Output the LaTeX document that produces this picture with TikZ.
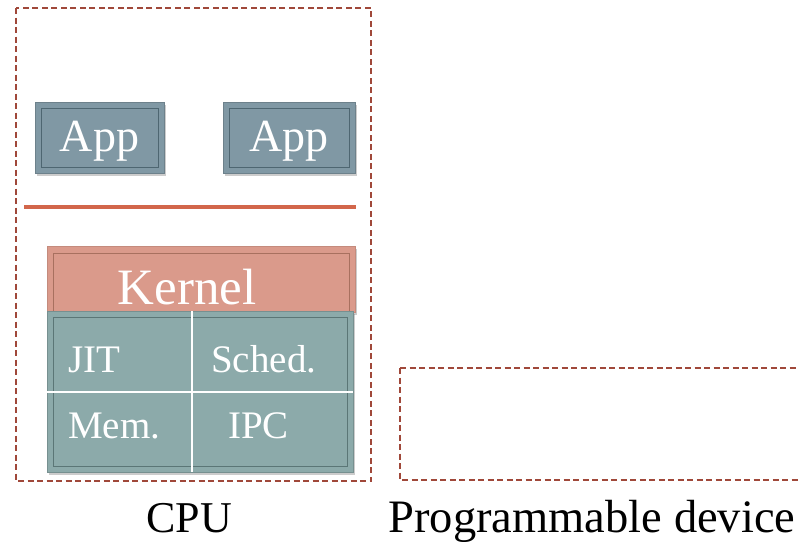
\documentclass[tikz,border=0pt]{standalone}
\usepackage{fontspec}
\setmainfont{Liberation Serif}
\usetikzlibrary{shadows}
\definecolor{dashc}{HTML}{A0483A}
\definecolor{appfill}{HTML}{8098A4}
\definecolor{appline}{HTML}{4E6671}
\definecolor{kfill}{HTML}{DA9A8B}
\definecolor{kline}{HTML}{A8705F}
\definecolor{tfill}{HTML}{8CAAAA}
\definecolor{tline}{HTML}{5B7676}
\definecolor{barc}{HTML}{D2664B}
\tikzset{
  region/.style={draw=dashc, line width=2pt, dash pattern=on 6pt off 3.5pt},
  shadowed/.style={drop shadow={opacity=0.4, shadow xshift=1.5pt, shadow yshift=-3pt}},
  appbox/.style={fill=appfill, draw=appfill!85!black, line width=0.6pt, shadowed},
  appinner/.style={draw=appline, line width=1pt},
  kbox/.style={fill=kfill, draw=kfill!90!black, line width=0.6pt, shadowed},
  kinner/.style={draw=kline, line width=1pt},
  tbox/.style={fill=tfill, draw=tfill!85!black, line width=0.6pt, shadowed},
  tinner/.style={draw=tline, line width=1pt},
  celltext/.style={text=white, font=\fontsize{39}{44}\selectfont, inner sep=0pt},
  bigtext/.style={text=white, inner sep=0pt},
  caption/.style={text=black, inner sep=0pt},
}
\begin{document}
\begin{tikzpicture}[x=1pt, y=-1pt]
\useasboundingbox (0,0) rectangle (798,541);
% regions
\draw[region] (16,8) rectangle (371,481);
\draw[region] (400,368) -- (802,368) (400,368) -- (400,480) -- (802,480);
% apps
\path[appbox] (35,102) rectangle (164,173);
\draw[appinner] (41,108) rectangle (158,167);
\node[bigtext, font=\fontsize{46}{50}\selectfont] (app1) at (99.5,141) {App};
\path[appbox] (223,102) rectangle (355,173);
\draw[appinner] (229,108) rectangle (349,167);
\node[bigtext, font=\fontsize{46}{50}\selectfont] (app2) at (289,141) {App};
% separator bar
\draw[barc, line width=4pt] (24,207) -- (356,207);
% kernel
\path[kbox] (47,246) rectangle (355,312);
\draw[kinner] (53,253) rectangle (349,312);
\node[bigtext, font=\fontsize{51}{56}\selectfont] (kernel) at (187,287) {Kernel};
% teal grid
\path[tbox] (47,311) rectangle (353,472);
\draw[tinner] (53,317) rectangle (347,466);
\draw[white, line width=1.5pt] (192,311) -- (192,472);
\draw[white, line width=1.5pt] (47,392) -- (353,392);
\node[celltext, anchor=base west] (jit) at (68,372) {JIT};
\node[celltext, anchor=base west] (sched) at (211,372) {Sched.};
\node[celltext, anchor=base west] (mem) at (68,438) {Mem.};
\node[celltext, anchor=base west] (ipc) at (228,438) {IPC};
% captions
\node[caption, font=\fontsize{44}{50}\selectfont, anchor=base] (cpu) at (189,532) {CPU};
\node[caption, font=\fontsize{46.5}{52}\selectfont, anchor=base] (prog) at (592,532) {Programmable device};
\end{tikzpicture}
\end{document}
